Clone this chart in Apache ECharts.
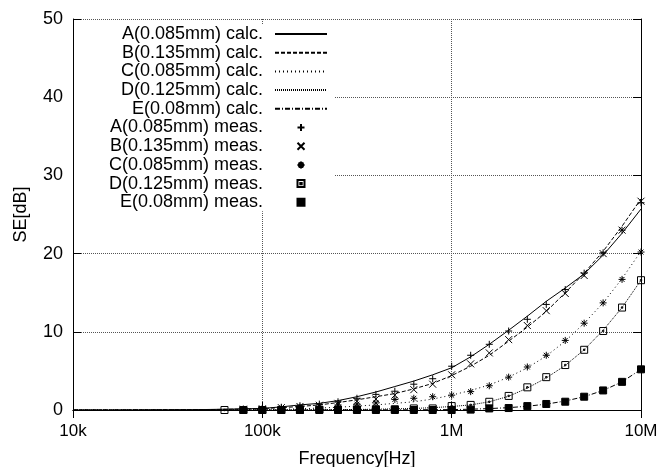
<!DOCTYPE html>
<html>
<head>
<meta charset="utf-8">
<style>
  html, body { margin: 0; padding: 0; background: #fff; }
  #chart { width: 661px; height: 467px; }
</style>
<script src="https://cdn.jsdelivr.net/npm/echarts@6/dist/echarts.min.js"></script>
</head>
<body>
<div id="chart"></div>
<script>
// frequencies (Hz), 0.1 decade steps
const freqCalc = [10000, 12600, 15800, 20000, 25100, 31600, 39800, 50100,
  63100, 79400, 100000, 126000, 158000, 200000, 251000, 316000, 398000, 501000,
  631000, 794000, 1000000, 1260000, 1580000, 2000000, 2510000, 3160000, 3980000,
  5010000, 6310000, 7940000, 10000000];
// measurements start at 63k
const freqMeas = freqCalc.slice(8);

// calculated curves (SE dB)
const calcA = [0, 0, 0, 0.01, 0.02, 0.03, 0.04, 0.06,
  0.1, 0.15, 0.2, 0.4, 0.65, 0.85, 1.2, 1.7, 2.3, 3.0, 3.7, 4.5, 5.4, 6.8, 8.4, 10.2, 12.0, 13.9, 15.6, 17.4, 19.8, 22.6, 25.7];
const calcB = [0, 0, 0, 0.01, 0.02, 0.03, 0.04, 0.05,
  0.08, 0.12, 0.18, 0.3, 0.45, 0.65, 0.95, 1.3, 1.7, 2.1, 2.7, 3.4, 4.4, 5.6, 7.0, 8.8, 10.6, 12.6, 15.0, 17.5, 20.3, 23.5, 27.0];
const calcC = [0, 0, 0, 0, 0, 0.01, 0.01, 0.01,
  0.02, 0.04, 0.07, 0.1, 0.15, 0.25, 0.35, 0.5, 0.65, 0.85, 1.05, 1.4, 1.9, 2.5, 3.2, 4.2, 5.4, 6.9, 8.8, 11.1, 13.7, 16.8, 20.3];
const calcD = [0, 0, 0, 0, 0, 0, 0, 0,
  0, 0, 0.01, 0.02, 0.03, 0.04, 0.05, 0.07, 0.1, 0.15, 0.2, 0.3, 0.45, 0.65, 1.05, 1.75, 2.8, 4.1, 5.7, 7.7, 10.2, 13.1, 16.6];
const calcE = [0, 0, 0, 0, 0, 0, 0, 0,
  0, 0, 0, 0, 0, 0, 0.01, 0.01, 0.02, 0.02, 0.03, 0.04, 0.05, 0.1, 0.18, 0.3, 0.48, 0.75, 1.15, 1.7, 2.5, 3.6, 5.2];

// measured points (SE dB), null = no point
const measA = [null, 0.1, 0.2, 0.35, 0.55, 0.75, 1.05, 1.5, 2.0, 2.4, 3.3, 4.0, 5.6, 7.0, 8.4, 10.1, 11.6, 13.5, 15.4, 17.5, 20.1, 23.0, 26.5];
const measB = [null, 0.1, 0.15, 0.3, 0.45, 0.6, 0.85, 1.1, 1.4, 1.9, 2.6, 3.3, 4.5, 5.9, 7.3, 9.0, 10.8, 12.7, 14.9, 17.2, 20.0, 23.0, 26.7];
const measC = [null, 0.1, 0.15, 0.25, 0.35, 0.45, 0.65, 0.75, 0.9, 1.35, 1.5, 1.7, 1.9, 2.35, 3.1, 4.2, 5.5, 7.0, 8.9, 11.1, 13.7, 16.7, 20.2];
const measD = [0, 0, 0, 0, 0.02, 0.05, 0.05, 0.08, 0.1, 0.1, 0.2, 0.2, 0.5, 0.65, 1.05, 1.8, 2.9, 4.2, 5.75, 7.7, 10.1, 13.1, 16.6];
const measE = [null, 0, 0, 0, 0, 0, 0, 0, 0, 0, 0, 0, 0, 0.05, 0.2, 0.25, 0.5, 0.77, 1.06, 1.7, 2.5, 3.6, 5.2];

const calcNames = ['A(0.085mm) calc.', 'B(0.135mm) calc.', 'C(0.085mm) calc.', 'D(0.125mm) calc.', 'E(0.08mm) calc.'];
const measNames = ['A(0.085mm) meas.', 'B(0.135mm) meas.', 'C(0.085mm) meas.', 'D(0.125mm) meas.', 'E(0.08mm) meas.'];
const xTickLabels = { 10000: '10k', 100000: '100k', 1000000: '1M', 10000000: '10M' };

const FONT = '"Liberation Sans", Arial, sans-serif';

function pairs(freqs, vals) {
  const out = [];
  freqs.forEach((f, i) => { if (vals[i] != null) out.push([f, vals[i]]); });
  return out;
}

// line styles like gnuplot's dash types
const calcStyles = [
  { type: 'solid' },
  { type: [4, 2] },
  { type: [1, 3] },
  { type: [1, 1] },
  { type: [5, 2, 1, 2] }
];
const calcData = [calcA, calcB, calcC, calcD, calcE];

const symA = 'path://M5,0V10M0,5H10';
const symB = 'path://M0,0L10,10M10,0L0,10';
const symC = 'path://M5,0V10M0,5H10M1.5,1.5L8.5,8.5M8.5,1.5L1.5,8.5';
const symD = 'path://M0,0H10V10H0ZM4,4H6V6H4Z';
const symE = 'path://M0,0H10V10H0Z';
const measSym = [symA, symB, symC, symD, symE];
const measData = [measA, measB, measC, measD, measE];

const series = [];
calcNames.forEach((name, i) => {
  series.push({
    name: name,
    type: 'line',
    data: pairs(freqCalc, calcData[i]),
    symbol: 'none',
    lineStyle: { color: '#000', width: 1, type: calcStyles[i].type },
    itemStyle: { color: '#000' },
    z: 2
  });
});
measNames.forEach((name, i) => {
  series.push({
    name: name,
    type: 'scatter',
    data: pairs(freqMeas, measData[i]),
    symbol: measSym[i],
    symbolSize: 7,
    itemStyle: {
      color: i === 4 ? '#000' : 'rgba(0,0,0,0)',
      borderColor: '#000',
      borderWidth: 1,
      opacity: 1
    },
    z: 3
  });
});

// legend: plain line samples for the calc curves (hide the dot)
const hiddenDot = { color: 'rgba(0,0,0,0)', borderColor: 'rgba(0,0,0,0)', borderWidth: 0 };
const legendData = calcNames.map(n => ({ name: n, itemStyle: hiddenDot }))
  .concat(measNames.map(n => ({ name: n })));

const chart = echarts.init(document.getElementById('chart'));
chart.setOption({
  animation: false,
  backgroundColor: '#fff',
  textStyle: { fontFamily: FONT },
  grid: { left: 73, right: 20, top: 19, bottom: 57, outerBoundsMode: 'none' },
  legend: {
    orient: 'vertical',
    left: 74,
    top: 24,
    align: 'right',
    backgroundColor: '#fff',
    padding: [1, 6, 0, 4],
    itemWidth: 52,
    itemHeight: 7,
    itemGap: 0.7,
    data: legendData,
    formatter: function (name) { return '{t|' + name + '}'; },
    textStyle: {
      fontFamily: FONT,
      fontSize: 18,
      color: '#000',
      rich: {
        t: { width: 185, align: 'right', fontFamily: FONT, fontSize: 18, lineHeight: 18, color: '#000', padding: [0, 7, 0, 0] }
      }
    }
  },
  xAxis: [
    {
      type: 'log',
      logBase: 10,
      min: 10000,
      max: 10000000,
      name: 'Frequency[Hz]',
      nameLocation: 'middle',
      nameGap: 40,
      nameTextStyle: { fontFamily: FONT, fontSize: 18, color: '#000' },
      axisLine: { lineStyle: { color: '#000', width: 1 } },
      axisTick: { inside: true, length: 8, lineStyle: { color: '#000' } },
      axisLabel: {
        fontFamily: FONT, fontSize: 17, color: '#000', margin: 13,
        formatter: function (v) { return xTickLabels[Math.round(v)] || ''; }
      },
      splitLine: { show: true, lineStyle: { color: '#555', width: 1, type: [1, 1] } },
      minorTick: { show: false }
    },
    {
      type: 'log',
      logBase: 10,
      min: 10000,
      max: 10000000,
      position: 'top',
      axisLine: { lineStyle: { color: '#000', width: 1 } },
      axisTick: { inside: true, length: 8, lineStyle: { color: '#000' } },
      axisLabel: { show: false },
      splitLine: { show: false }
    }
  ],
  yAxis: [
    {
      type: 'value',
      min: 0,
      max: 50,
      interval: 10,
      name: 'SE[dB]',
      nameLocation: 'middle',
      nameGap: 43,
      nameTextStyle: { fontFamily: FONT, fontSize: 18, color: '#000' },
      axisLine: { show: true, lineStyle: { color: '#000', width: 1 } },
      axisTick: { show: true, inside: true, length: 8, lineStyle: { color: '#000' } },
      axisLabel: { fontFamily: FONT, fontSize: 18, color: '#000', margin: 10 },
      splitLine: { show: true, lineStyle: { color: '#555', width: 1, type: [1, 1] } }
    },
    {
      type: 'value',
      min: 0,
      max: 50,
      interval: 10,
      position: 'right',
      axisLine: { show: true, lineStyle: { color: '#000', width: 1 } },
      axisTick: { show: true, inside: true, length: 8, lineStyle: { color: '#000' } },
      axisLabel: { show: false },
      splitLine: { show: false }
    }
  ],
  series: series
});
window.addEventListener('resize', () => chart.resize());
</script>
</body>
</html>
